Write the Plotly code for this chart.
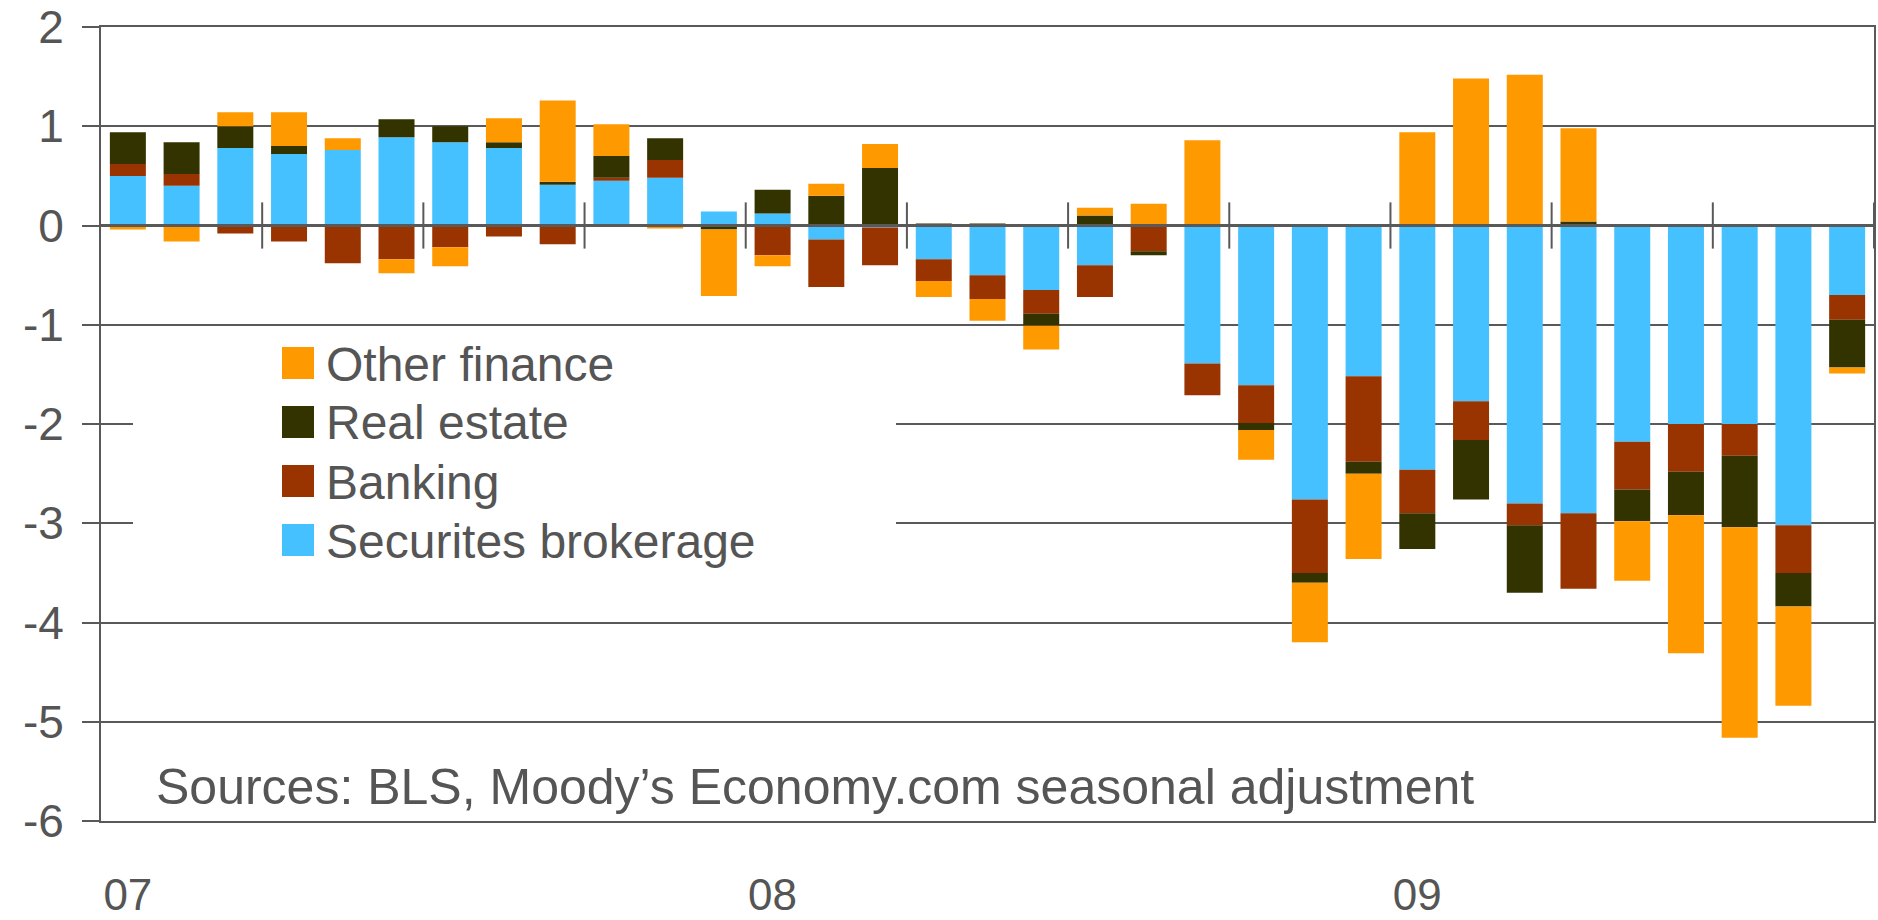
import plotly.graph_objects as go

# ---- data ----
months = ["2007-01", "2007-02", "2007-03", "2007-04", "2007-05", "2007-06",
          "2007-07", "2007-08", "2007-09", "2007-10", "2007-11", "2007-12",
          "2008-01", "2008-02", "2008-03", "2008-04", "2008-05", "2008-06",
          "2008-07", "2008-08", "2008-09", "2008-10", "2008-11", "2008-12",
          "2009-01", "2009-02", "2009-03", "2009-04", "2009-05", "2009-06",
          "2009-07", "2009-08", "2009-09"]

securities = [0.50, 0.40, 0.78, 0.72, 0.76, 0.89, 0.84, 0.78, 0.41, 0.45, 0.48,
              0.14, 0.12, -0.14, -0.02, -0.34, -0.50, -0.65, -0.40, 0.00, -1.39,
              -1.61, -2.76, -1.52, -2.46, -1.77, -2.80, -2.90, -2.18, -2.00,
              -2.00, -3.02, -0.70]
banking = [0.12, 0.12, -0.08, -0.16, -0.38, -0.34, -0.22, -0.11, -0.19, 0.03, 0.18,
           -0.02, -0.30, -0.48, -0.38, -0.22, -0.24, -0.24, -0.32, -0.26, -0.32,
           -0.38, -0.74, -0.86, -0.44, -0.39, -0.22, -0.76, -0.48, -0.48,
           -0.32, -0.48, -0.25]
real_estate = [0.32, 0.32, 0.22, 0.08, 0.00, 0.18, 0.16, 0.06, 0.03, 0.22, 0.22,
               -0.02, 0.24, 0.30, 0.58, 0.02, 0.02, -0.12, 0.10, -0.04, 0.00,
               -0.07, -0.10, -0.12, -0.36, -0.60, -0.68, 0.04, -0.32, -0.44,
               -0.72, -0.34, -0.48]
other_finance = [-0.04, -0.16, 0.14, 0.34, 0.12, -0.14, -0.19, 0.24, 0.82, 0.32, -0.03,
                 -0.67, -0.11, 0.12, 0.24, -0.16, -0.22, -0.24, 0.08, 0.22, 0.86,
                 -0.30, -0.60, -0.86, 0.94, 1.48, 1.52, 0.94, -0.60, -1.39,
                 -2.12, -1.00, -0.06]

year_tick_positions = [0, 12, 24]
year_tick_labels = ["07", "08", "09"]
y_tick_values = [-6, -5, -4, -3, -2, -1, 0, 1, 2]
y_tick_labels = ["-6", "-5", "-4", "-3", "-2", "-1", "0", "1", "2"]
quarter_ticks = [2.5, 5.5, 8.5, 11.5, 14.5, 17.5, 20.5, 23.5, 26.5, 29.5, 32.5]

series_names = ["Securites brokerage", "Banking", "Real estate", "Other finance"]
series_values = [securities, banking, real_estate, other_finance]
series_colors = ["#45C1FF", "#993300", "#333300", "#FF9900"]

# ---- styling constants ----
W, H = 1878, 920
ML, MR, MT, MB = 101, 4, 27, 99
PW, PH = W - ML - MR, H - MT - MB
GRAY = "#595959"
TXT = "#555555"
FONT = "Liberation Sans, Arial, sans-serif"


def px_x(p):
    return (p - ML) / PW


def px_y(p):
    return (H - MB - p) / PH


x_idx = list(range(len(months)))

fig = go.Figure()
for name, vals, col in zip(series_names, series_values, series_colors):
    fig.add_trace(go.Bar(x=x_idx, y=vals, name=name, marker_color=col,
                         marker_line_width=0, hovertext=months,
                         showlegend=False))

# quarter tick marks on the zero line
fig.add_trace(go.Scatter(x=quarter_ticks, y=[0] * len(quarter_ticks), mode="markers",
                         marker=dict(symbol="line-ns", size=33,
                                     line=dict(color=GRAY, width=2)),
                         showlegend=False, hoverinfo="skip", cliponaxis=False))

shapes = []
# zero line above bars
shapes.append(dict(type="line", xref="paper", x0=0, x1=1, yref="y", y0=0, y1=0,
                   line=dict(color=GRAY, width=3), layer="above"))
# white background box for the legend
shapes.append(dict(type="rect", xref="paper", yref="paper",
                   x0=px_x(133), x1=px_x(896), y0=px_y(600), y1=px_y(332),
                   fillcolor="white", line=dict(width=0), layer="above"))

annotations = []
legend_order = list(reversed(range(len(series_names))))
centers = [363, 422, 481, 540]
for cy, i in zip(centers, legend_order):
    shapes.append(dict(type="rect", xref="paper", yref="paper",
                       x0=px_x(282), x1=px_x(314), y0=px_y(cy + 16), y1=px_y(cy - 16),
                       fillcolor=series_colors[i], line=dict(width=0), layer="above"))
    annotations.append(dict(text=series_names[i], xref="paper", yref="paper",
                            x=px_x(324), y=px_y(cy + 1), xanchor="left", yanchor="middle",
                            showarrow=False, font=dict(family=FONT, size=48, color=TXT)))

annotations.append(dict(text="Sources: BLS, Moody\u2019s Economy.com seasonal adjustment",
                        xref="paper", yref="paper", x=px_x(154), y=px_y(787),
                        xanchor="left", yanchor="middle", showarrow=False,
                        font=dict(family=FONT, size=50, color=TXT)))

fig.update_layout(
    width=W, height=H,
    margin=dict(l=ML, r=MR, t=MT, b=MB, pad=0),
    barmode="relative", bargap=0.33,
    plot_bgcolor="white", paper_bgcolor="white",
    showlegend=False,
    shapes=shapes, annotations=annotations,
    font=dict(family=FONT, color=TXT),
)
fig.update_xaxes(range=[-0.5, 32.5], tickmode="array", tickvals=year_tick_positions,
                 ticktext=year_tick_labels, ticks="", showgrid=False, zeroline=False,
                 showline=True, linecolor=GRAY, linewidth=2, mirror=True,
                 tickfont=dict(family=FONT, size=44, color=TXT),
                 ticklabelstandoff=34, automargin=False)
fig.update_yaxes(range=[-6, 2], tickmode="array", tickvals=y_tick_values,
                 ticktext=y_tick_labels, showgrid=True, gridcolor=GRAY,
                 gridwidth=2, zeroline=False, showline=True, linecolor=GRAY,
                 linewidth=2, mirror=True, ticks="outside", ticklen=17,
                 tickcolor=GRAY, tickwidth=2,
                 tickfont=dict(family=FONT, size=46, color=TXT),
                 ticklabelstandoff=9, automargin=False, ticklabeloverflow="allow")

fig.write_html("out.html", post_script="document.body.style.margin='0';",
               config={"displayModeBar": False})
